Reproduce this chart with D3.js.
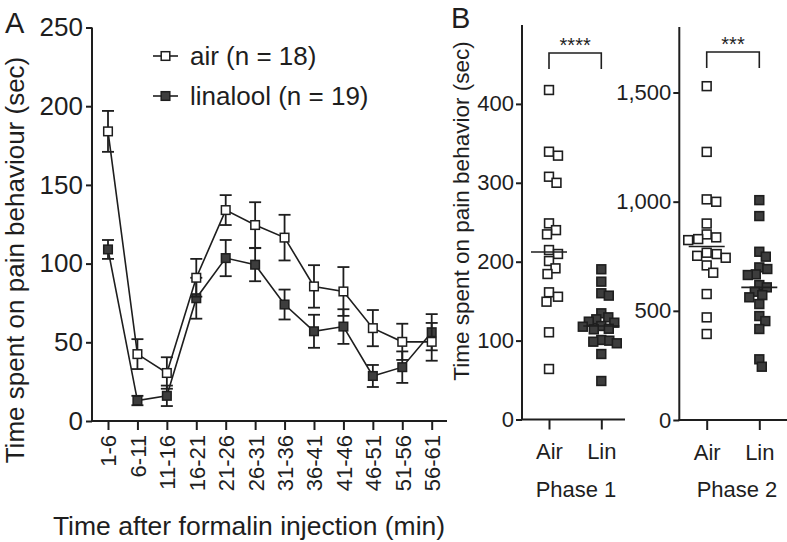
<!DOCTYPE html>
<html>
<head>
<meta charset="utf-8">
<script src="https://cdn.jsdelivr.net/npm/d3@7"></script>
<style>
  html, body { margin: 0; padding: 0; background: #fff; }
  svg { display: block; font-family: "Liberation Sans", Arial, sans-serif; }
  text { fill: #1e1e1e; }
</style>
</head>
<body>
<svg id="chart" width="787" height="542"></svg>
<script>
// ---------- DATA ----------
const categories = ["1-6","6-11","11-16","16-21","21-26","26-31","31-36","36-41","41-46","46-51","51-56","56-61"];
const airMean = [184, 42.5, 30.5, 91, 134, 124.5, 116.5, 85.5, 82.3, 59, 50.3, 50.3];
const airSem  = [13, 9.5, 10, 12, 9.5, 14.5, 14.5, 13.5, 15.5, 11.5, 11.5, 12];
const linMean = [109, 13, 16, 78, 103.5, 99.3, 74, 57, 60, 28.6, 34.2, 56.4];
const linSem  = [6, 3, 6.5, 13, 11.5, 10.5, 9.5, 10.5, 11, 7, 10, 11.5];
const legendLabels = ["air (n = 18)", "linalool (n = 19)"];

const groups = ["Air", "Lin"];
const phase1Air = [417.6, 339.4, 334.4, 307.7, 300, 248.6, 240, 234.7, 214.8, 209.8, 200.9, 191.6, 184.4, 161.2, 155.6, 149.3, 110.5, 64];
const phase1Lin = [190.4, 174.7, 160, 157, 134.6, 129.5, 127, 124, 122.7, 118.5, 117.6, 115, 114.3, 100.8, 99.9, 98.6, 96.6, 83, 48.8];
const phase2Air = [1529, 1228, 1010.5, 999.5, 900, 850, 836.5, 828.7, 824, 766, 760, 752, 743, 708, 674.5, 577, 470, 394];
const phase2Lin = [1007, 934, 770.6, 748, 699, 691.5, 667, 664, 618, 607.6, 587.5, 572, 562, 531, 476, 453, 416.7, 278, 244];
const phase1Ticks = [0, 100, 200, 300, 400];
const phase2Ticks = [0, 500, 1000, 1500];
const phaseLabels = ["Phase 1", "Phase 2"];
const sigLabels = ["****", "***"];

// ---------- STYLE ----------
const ink = "#1e1e1e";
const darkFill = "#3d3d3d";
const svg = d3.select("#chart");

// ---------- PANEL A ----------
const xA = d3.scalePoint().domain(categories).range([108, 431.7]);
const yA = d3.scaleLinear().domain([0, 250]).range([421, 27.5]);
const gA = svg.append("g");

gA.append("line").attr("x1", 92).attr("x2", 92).attr("y1", yA(0)).attr("y2", yA(250))
  .attr("stroke", ink).attr("stroke-width", 2);
gA.append("line").attr("x1", 91).attr("x2", 447).attr("y1", yA(0)).attr("y2", yA(0))
  .attr("stroke", ink).attr("stroke-width", 2);

const yAxisA = gA.append("g").attr("transform", "translate(92,0)")
  .call(d3.axisLeft(yA).tickValues([0,50,100,150,200,250]).tickSize(6).tickPadding(3));
yAxisA.select(".domain").remove();
yAxisA.selectAll("line").attr("stroke", ink).attr("stroke-width", 2);
yAxisA.selectAll("text").attr("font-size", 26).attr("font-family", "Liberation Sans, Arial, sans-serif").attr("fill", ink);

const xAxisA = gA.append("g").attr("transform", `translate(0,${yA(0)})`)
  .call(d3.axisBottom(xA).tickSize(9).tickPadding(0));
xAxisA.select(".domain").remove();
xAxisA.selectAll("line").attr("stroke", ink).attr("stroke-width", 2);
xAxisA.selectAll("text")
  .attr("font-size", 22).attr("font-family", "Liberation Sans, Arial, sans-serif").attr("fill", ink)
  .attr("text-anchor", "end")
  .attr("transform", "translate(0,14) rotate(-90)")
  .attr("x", 0).attr("y", 0).attr("dy", "0.36em");

gA.append("text").attr("transform", "translate(24,260) rotate(-90)")
  .attr("text-anchor", "middle").attr("font-size", 26)
  .text("Time spent on pain behaviour (sec)");
gA.append("text").attr("x", 249).attr("y", 535)
  .attr("text-anchor", "middle").attr("font-size", 26.5)
  .text("Time after formalin injection (min)");
svg.append("text").attr("x", 5).attr("y", 33).attr("font-size", 29).text("A");
svg.append("text").attr("x", 451).attr("y", 28).attr("font-size", 29).text("B");

function drawSeries(means, sems, filled) {
  const g = gA.append("g");
  const line = d3.line().x((d, i) => xA(categories[i])).y(d => yA(d));
  g.append("path").attr("d", line(means)).attr("fill", "none")
    .attr("stroke", ink).attr("stroke-width", 1.6);
  means.forEach((m, i) => {
    const cx = xA(categories[i]);
    const t = yA(m + sems[i]), b = yA(m - sems[i]);
    g.append("line").attr("x1", cx).attr("x2", cx).attr("y1", t).attr("y2", b)
      .attr("stroke", ink).attr("stroke-width", 1.8);
    [t, b].forEach(yy => g.append("line").attr("x1", cx - 6).attr("x2", cx + 6)
      .attr("y1", yy).attr("y2", yy).attr("stroke", ink).attr("stroke-width", 1.8));
  });
  g.selectAll("rect").data(means).join("rect")
    .attr("x", (d, i) => xA(categories[i]) - 4.3)
    .attr("y", d => yA(d) - 4.3)
    .attr("width", 8.6).attr("height", 8.6)
    .attr("fill", filled ? darkFill : "#fff")
    .attr("stroke", ink).attr("stroke-width", 1.5);
}
drawSeries(linMean, linSem, true);
drawSeries(airMean, airSem, false);

[[56, false], [96, true]].forEach(([ly, filled], k) => {
  gA.append("line").attr("x1", 153).attr("x2", 178).attr("y1", ly).attr("y2", ly)
    .attr("stroke", ink).attr("stroke-width", 1.6);
  gA.append("rect").attr("x", 165.5 - 4.3).attr("y", ly - 4.3).attr("width", 8.6).attr("height", 8.6)
    .attr("fill", filled ? darkFill : "#fff").attr("stroke", ink).attr("stroke-width", 1.5);
  gA.append("text").attr("x", 190).attr("y", ly + 8.5).attr("font-size", 26).text(legendLabels[k]);
});

// ---------- PANEL B ----------
function swarm(values, y, d) {
  const placed = [];
  const order = values.map((v, i) => i).sort((a, b) => values[b] - values[a]);
  const off = new Array(values.length).fill(0);
  order.forEach(i => {
    const py = y(values[i]);
    let chosen = 0;
    for (let k = 0; k < 400; k++) {
      const cand = (k % 2 === 1 ? 1 : -1) * Math.ceil(k / 2) * 0.5;
      const ok = placed.every(p => (p.x - cand) ** 2 + (p.y - py) ** 2 >= d * d);
      if (ok) { chosen = cand; break; }
    }
    placed.push({x: chosen, y: py});
    off[i] = chosen;
  });
  return off;
}

function drawPhase(opts) {
  const {axisX, xRange, xEnd, domainMax, yRange, ticks, air, lin, label, labelX, sig, bracketY} = opts;
  const g = svg.append("g");
  const x = d3.scalePoint().domain(groups).range(xRange);
  const y = d3.scaleLinear().domain([0, domainMax]).range(yRange);

  g.append("line").attr("x1", axisX).attr("x2", axisX).attr("y1", y(0)).attr("y2", y(domainMax))
    .attr("stroke", ink).attr("stroke-width", 2);
  g.append("line").attr("x1", axisX - 1).attr("x2", xEnd).attr("y1", y(0)).attr("y2", y(0))
    .attr("stroke", ink).attr("stroke-width", 2);

  const ya = g.append("g").attr("transform", `translate(${axisX},0)`)
    .call(d3.axisLeft(y).tickValues(ticks).tickFormat(d3.format(",")).tickSize(6).tickPadding(2));
  ya.select(".domain").remove();
  ya.selectAll("line").attr("stroke", ink).attr("stroke-width", 2);
  ya.selectAll("text").attr("font-size", 22).attr("font-family", "Liberation Sans, Arial, sans-serif").attr("fill", ink);

  const xa = g.append("g").attr("transform", `translate(0,${y(0)})`)
    .call(d3.axisBottom(x).tickSize(10).tickPadding(14));
  xa.select(".domain").remove();
  xa.selectAll("line").attr("stroke", ink).attr("stroke-width", 2);
  xa.selectAll("text").attr("font-size", 22).attr("font-family", "Liberation Sans, Arial, sans-serif").attr("fill", ink);

  g.append("text").attr("x", labelX).attr("y", 497).attr("text-anchor", "middle")
    .attr("font-size", 22).text(label);

  [[air, "Air", false, 9.6], [lin, "Lin", true, 7.8]].forEach(([vals, grp, filled, dist]) => {
    const offs = swarm(vals, y, dist);
    const cx = x(grp);
    g.append("g").selectAll("rect").data(vals).join("rect")
      .attr("x", (d, i) => cx + offs[i] - 4.4)
      .attr("y", d => y(d) - 4.4)
      .attr("width", 8.8).attr("height", 8.8)
      .attr("fill", filled ? darkFill : "#fff")
      .attr("stroke", ink).attr("stroke-width", 1.6);
    const med = d3.median(vals);
    g.append("line").attr("x1", cx - 18).attr("x2", cx + 18).attr("y1", y(med)).attr("y2", y(med))
      .attr("stroke", ink).attr("stroke-width", 1.6);
  });

  const xa0 = x("Air"), xl0 = x("Lin");
  g.append("path").attr("d", `M${xa0},${bracketY + 16}V${bracketY}H${xl0}V${bracketY + 16}`)
    .attr("fill", "none").attr("stroke", ink).attr("stroke-width", 1.6);
  g.append("text").attr("x", (xa0 + xl0) / 2).attr("y", bracketY - 1)
    .attr("text-anchor", "middle").attr("font-size", 20).text(sig);
}

drawPhase({axisX: 522, xRange: [549, 601.3], xEnd: 625, domainMax: 500, yRange: [419.5, 25],
  ticks: phase1Ticks, air: phase1Air, lin: phase1Lin, label: phaseLabels[0], labelX: 576,
  sig: sigLabels[0], bracketY: 53});
drawPhase({axisX: 679.3, xRange: [706.7, 759.3], xEnd: 787, domainMax: 1800, yRange: [420, 27],
  ticks: phase2Ticks, air: phase2Air, lin: phase2Lin, label: phaseLabels[1], labelX: 737,
  sig: sigLabels[1], bracketY: 52});

svg.append("text").attr("transform", "translate(469,211) rotate(-90)")
  .attr("text-anchor", "middle").attr("font-size", 22.5)
  .text("Time spent on pain behavior (sec)");
</script>
</body>
</html>
